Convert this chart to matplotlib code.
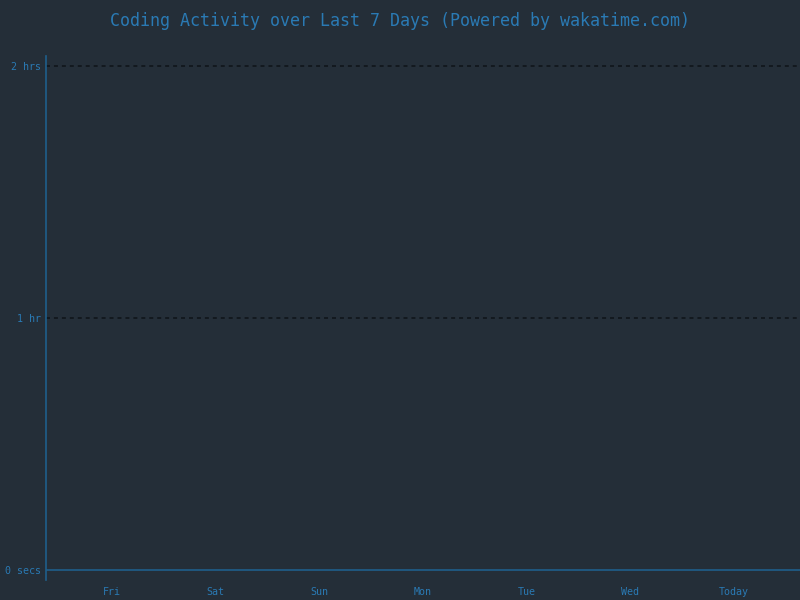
import matplotlib
matplotlib.use('Agg')
import matplotlib.pyplot as plt

# data
days = ['Fri', 'Sat', 'Sun', 'Mon', 'Tue', 'Wed', 'Today']
hours = [0, 0, 0, 0, 0, 0, 0]
y_ticks = [0, 1, 2]
y_tick_labels = ['0 secs', '1 hr', '2 hrs']

bg = '#242e38'
text_col = '#2a7ab4'
axis_col = '#1f5f8b'
grid_col = '#0e1318'

plt.rcParams['font.family'] = ['DejaVu Sans Mono']

fig = plt.figure(figsize=(8, 6), dpi=100, facecolor=bg)
ax = fig.add_axes([46 / 800, 20 / 600, 754 / 800, 524 / 600])
ax.set_facecolor(bg)

x = list(range(len(days)))
ax.bar(x, hours, width=0.8, color=text_col)

ax.set_xlim(-0.637, 6.637)
ax.set_ylim(-10 / 252, 2 + 10 / 252)

# gridlines at non-zero ticks
for t in y_ticks[1:]:
    ax.axhline(t, color=grid_col, lw=1.1, ls=(0, (2.6, 2.6)), zorder=0)
ax.axhline(0, color=axis_col, lw=1.2, zorder=1)

for s in ['top', 'right', 'bottom']:
    ax.spines[s].set_visible(False)
ax.spines['left'].set_color(axis_col)
ax.spines['left'].set_linewidth(1.2)

ax.set_yticks(y_ticks)
ax.set_yticklabels(y_tick_labels)
ax.set_xticks(x)
ax.set_xticklabels(days)
ax.tick_params(axis='both', length=0, colors=text_col, labelsize=7.2)
ax.tick_params(axis='y', pad=3.5)
ax.tick_params(axis='x', pad=5)

fig.text(0.5, 1 - 21 / 600, 'Coding Activity over Last 7 Days (Powered by wakatime.com)',
         ha='center', va='center', color=text_col, fontsize=12)

fig.savefig('out.png', dpi=100, facecolor=bg)
